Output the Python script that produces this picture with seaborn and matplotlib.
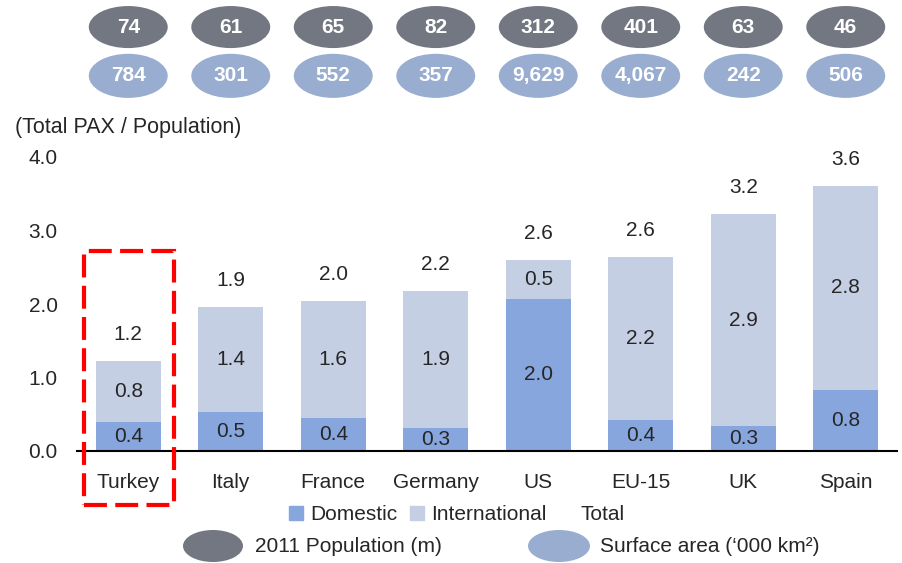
import matplotlib
matplotlib.use("Agg")
import numpy as np
import pandas as pd
import seaborn as sns
import matplotlib.pyplot as plt
from matplotlib.patches import Ellipse, Rectangle, Patch

# values
countries = ["Turkey", "Italy", "France", "Germany", "US", "EU-15", "UK", "Spain"]
domestic = [0.39, 0.53, 0.45, 0.31, 2.07, 0.42, 0.34, 0.83]
international = [0.83, 1.43, 1.59, 1.87, 0.53, 2.22, 2.88, 2.78]
total = [1.22, 1.96, 2.04, 2.18, 2.60, 2.64, 3.22, 3.61]
domestic_lbl = ["0.4", "0.5", "0.4", "0.3", "2.0", "0.4", "0.3", "0.8"]
international_lbl = ["0.8", "1.4", "1.6", "1.9", "0.5", "2.2", "2.9", "2.8"]
total_lbl = ["1.2", "1.9", "2.0", "2.2", "2.6", "2.6", "3.2", "3.6"]
population = ["74", "61", "65", "82", "312", "401", "63", "46"]
surface = ["784", "301", "552", "357", "9,629", "4,067", "242", "506"]

DOM = "#87a6dd"
INTL = "#c4cfe4"
DARK = "#737781"
LIGHT = "#98adcf"

sns.set_style("white")
plt.rcParams["font.family"] = ["Liberation Sans", "DejaVu Sans"]
plt.rcParams["font.size"] = 15

df = pd.DataFrame({"country": countries, "domestic": domestic,
                   "international": international, "total": total})

fig = plt.figure(figsize=(9.02, 5.63), dpi=100)
ax = fig.add_axes([77 / 902, 112 / 563, 820 / 902, 294 / 563])

sns.barplot(data=df, x="country", y="domestic", color=DOM, saturation=1,
            width=0.63, linewidth=0, ax=ax)
sns.barplot(data=df, x="country", y="international", bottom=df["domestic"],
            color=INTL, saturation=1, width=0.63, linewidth=0, ax=ax)

for i in range(len(countries)):
    ax.text(i, domestic[i] / 2, domestic_lbl[i], ha="center", va="center")
    ax.text(i, domestic[i] + international[i] / 2, international_lbl[i],
            ha="center", va="center")
    ax.annotate(total_lbl[i], (i, total[i]), xytext=(0, 19),
                textcoords="offset points", ha="center", va="center")

# ellipses with population / surface area above the bars
trans = ax.get_xaxis_transform()
for i in range(len(countries)):
    ax.add_patch(Ellipse((i, 1.442), 0.77, 0.143, transform=trans,
                         color=DARK, clip_on=False, lw=0))
    ax.text(i, 1.442, population[i], transform=trans, ha="center",
            va="center", color="white", fontweight="bold")
    ax.add_patch(Ellipse((i, 1.276), 0.77, 0.15, transform=trans,
                         color=LIGHT, clip_on=False, lw=0))
    ax.text(i, 1.276, surface[i], transform=trans, ha="center",
            va="center", color="white", fontweight="bold")

# red dashed highlight around Turkey
ax.add_patch(Rectangle((-0.432, -0.74), 0.878, 3.46, fill=False,
                       edgecolor="red", lw=3, linestyle=(0, (5.5, 2)),
                       clip_on=False, zorder=5))

ax.set_xlim(-0.5, 7.5)
ax.set_ylim(0, 4)
ax.set_yticks([0, 1, 2, 3, 4])
ax.set_yticklabels([f"{v:.1f}" for v in [0, 1, 2, 3, 4]])
ax.set_xticks(np.arange(-0.5, 8, 1), minor=True)
ax.set_xlabel("")
ax.set_ylabel("")
for s in ["top", "right", "left"]:
    ax.spines[s].set_visible(False)
ax.spines["bottom"].set_color("black")
ax.spines["bottom"].set_linewidth(1.5)
ax.tick_params(axis="x", which="major", length=0, pad=16, labelsize=15)
ax.tick_params(axis="x", which="minor", length=7, width=1.5,
               direction="out", color="black")
ax.tick_params(axis="y", length=0, pad=14, labelsize=15)

fig.text(15 / 902, 1 - 128 / 563, "(Total PAX / Population)",
         ha="left", va="center", fontsize=15.5)

handles = [Patch(color=DOM, label="Domestic"),
           Patch(color=INTL, label="International"),
           Patch(color="none", label="Total")]
fig.legend(handles=handles, ncol=3, loc="center",
           bbox_to_anchor=(457 / 902, 1 - 515 / 563), frameon=False,
           handlelength=0.67, handleheight=0.67, handletextpad=0.35,
           columnspacing=0.6, fontsize=15, borderpad=0)

fig.add_artist(Ellipse((213 / 902, 1 - 546 / 563), 60 / 902, 32 / 563,
                       transform=fig.transFigure, color=DARK, lw=0))
fig.text(255 / 902, 1 - 546 / 563, "2011 Population (m)", va="center")
fig.add_artist(Ellipse((559 / 902, 1 - 546 / 563), 62 / 902, 32 / 563,
                       transform=fig.transFigure, color=LIGHT, lw=0))
fig.text(600 / 902, 1 - 546 / 563, "Surface area (\u2018000 km\u00b2)",
         va="center")

fig.savefig("out.png", dpi=100)
